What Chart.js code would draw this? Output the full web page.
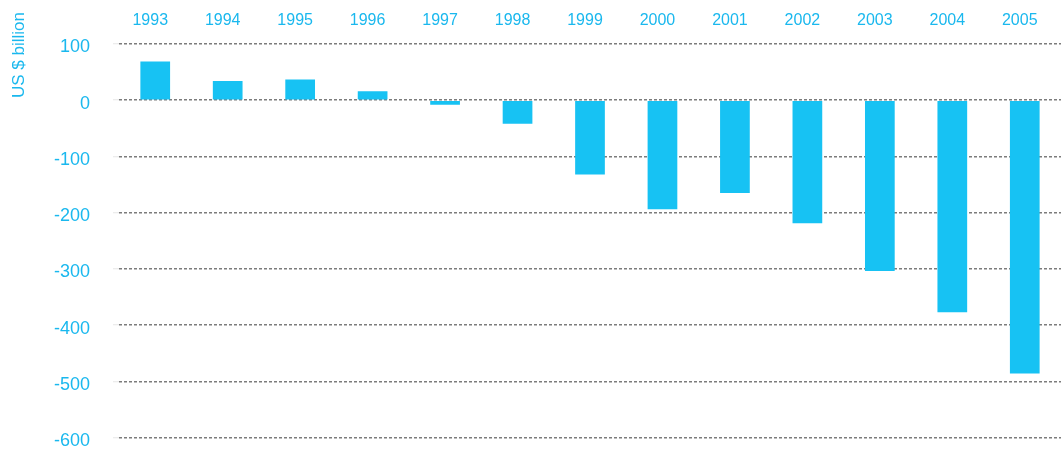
<!DOCTYPE html>
<html>
<head>
<meta charset="utf-8">
<script src="https://cdn.jsdelivr.net/npm/chart.js@4/dist/chart.umd.min.js"></script>
<style>
  html, body { margin: 0; padding: 0; background: #ffffff; }
  #wrap { width: 1061px; height: 449px; }
</style>
</head>
<body>
<div id="wrap"><canvas id="c" width="1061" height="449"></canvas></div>
<script>
const years = ['1993','1994','1995','1996','1997','1998','1999','2000','2001','2002','2003','2004','2005'];
const balance = [69, 34, 37, 16, -8, -42, -132, -194, -165, -219, -304, -377, -486];
const yTicks = [100, 0, -100, -200, -300, -400, -500, -600];
const yTitle = 'US $ billion';

const FONT = "'Liberation Sans', Arial, sans-serif";
const TEXT = '#1ab8ee';
const BAR = '#17c2f3';

const titlePlugin = {
  id: 'yTitle',
  afterDraw(chart) {
    const ctx = chart.ctx;
    ctx.save();
    ctx.translate(19, 55);
    ctx.rotate(-Math.PI / 2);
    ctx.font = '17px ' + FONT;
    ctx.fillStyle = TEXT;
    ctx.textAlign = 'center';
    ctx.textBaseline = 'middle';
    ctx.fillText(yTitle, 0, 0);
    ctx.restore();
  }
};

new Chart(document.getElementById('c'), {
  type: 'bar',
  data: {
    labels: years,
    datasets: [{
      data: balance,
      backgroundColor: BAR,
      borderWidth: 0,
      categoryPercentage: 1,
      barPercentage: 0.41
    }]
  },
  options: {
    responsive: false,
    animation: false,
    layout: { padding: { left: 0, right: 0, top: 0, bottom: 11.5 } },
    plugins: { legend: { display: false }, tooltip: { enabled: false } },
    scales: {
      x: {
        position: 'top',
        grid: { display: false, drawTicks: false },
        border: { display: false },
        ticks: {
          color: TEXT,
          font: { family: FONT, size: 16 },
          padding: 14,
          labelOffset: -5,
          maxRotation: 0
        },
        afterFit(scale) { scale.height = 44; scale.paddingLeft = 0; scale.paddingRight = 0; }
      },
      y: {
        min: -600,
        max: 100,
        afterBuildTicks(scale) {
          scale.ticks = yTicks.map(v => ({ value: v }));
        },
        grid: {
          color: 'rgba(110,110,110,0.9)',
          lineWidth: 1.5,
          drawTicks: true,
          tickLength: 6,
          tickColor: '#e6e6e6',
          tickWidth: 1,
          tickBorderDash: [1, 0]
        },
        border: { display: false, dash: [3, 2] },
        ticks: {
          color: TEXT,
          font: { family: FONT, size: 18 },
          padding: 23,
          labelOffset: 3.5,
          callback: v => String(v)
        },
        afterFit(scale) { scale.width = 119; scale.paddingTop = 0; scale.paddingBottom = 0; }
      }
    }
  },
  plugins: [titlePlugin]
});
</script>
</body>
</html>
